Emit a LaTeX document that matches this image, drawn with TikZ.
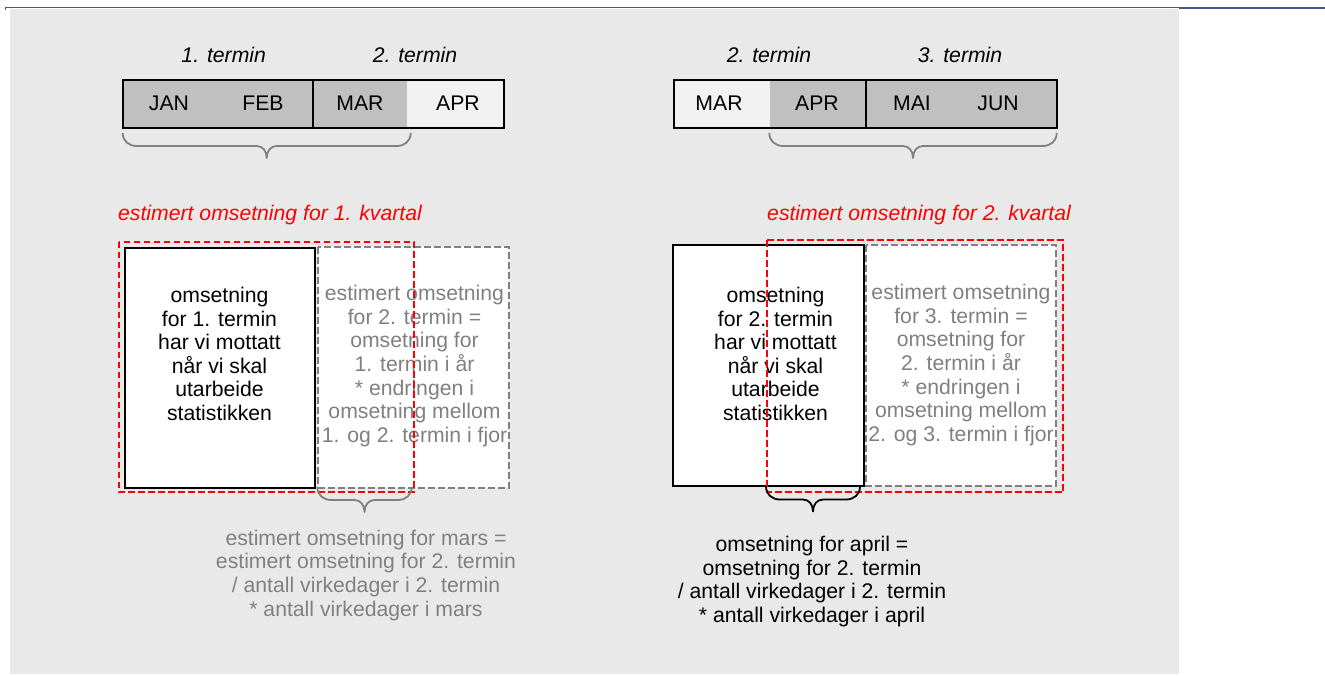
\documentclass[tikz,border=0pt]{standalone}
\usepackage{fontspec}
\setmainfont{Liberation Sans}
\definecolor{bg}{RGB}{233,233,233}
\definecolor{dk}{RGB}{192,192,192}
\definecolor{lt}{RGB}{242,242,242}
\definecolor{gr}{RGB}{128,128,128}
\definecolor{rd}{RGB}{255,0,0}
\definecolor{bl}{RGB}{59,89,140}
\newcommand\hbrace[4]{% x1, x2, y0, colour
  \draw[#4,line width=1.8pt,line join=round]
    (#1,#3) .. controls (#1,{#3+8}) and ({#1+6},{#3+13}) .. ({#1+14},{#3+13})
    -- ({(#1+#2)/2-10},{#3+13})
    .. controls ({(#1+#2)/2-4},{#3+13}) and ({(#1+#2)/2},{#3+18}) .. ({(#1+#2)/2},{#3+25})
    .. controls ({(#1+#2)/2},{#3+18}) and ({(#1+#2)/2+4},{#3+13}) .. ({(#1+#2)/2+10},{#3+13})
    -- ({#2-14},{#3+13})
    .. controls ({#2-6},{#3+13}) and (#2,{#3+8}) .. (#2,#3);}
\tikzset{
  txt/.style={font=\fontsize{21.2}{23.6}\selectfont, align=center, inner sep=0pt},
  hdr/.style={font=\fontsize{21.2}{23.6}\selectfont\itshape, inner sep=0pt},
  solidbox/.style={draw=black, line width=2.2pt, fill=white},
  grayboxd/.style={draw=gr, line width=2pt, dash pattern=on 6.7pt off 3.3pt, fill=white},
  redboxd/.style={draw=rd, line width=2pt, dash pattern=on 6.7pt off 3.3pt},
  bar/.style={draw=black, line width=2.2pt},
}
\begin{document}
\begin{tikzpicture}[x=1pt,y=-1pt]
\useasboundingbox (0,0) rectangle (1325,675);
% background panel
\fill[bg] (10,8.5) rectangle (1179,674);
\draw[bl,line width=1.8pt] (5,7.5) -- (1325,7.5);
\draw[bl,line width=1.5pt] (1179,8.7) -- (1325,8.7);
\draw[bl,line width=1.5pt] (5.5,7) -- (5.5,9.5);

% ---------- left month bar ----------
\fill[dk] (122.7,80) rectangle (407.3,128.3);
\fill[lt] (407.3,80) rectangle (504.3,128.3);
\draw[bar] (122.7,80) rectangle (504.3,128.3);
\draw[bar] (313.3,80) -- (313.3,128.3);
\node[txt] (jan) at (169,103) {JAN};
\node[txt] (feb) at (263,103) {FEB};
\node[txt] (marA) at (360,103) {MAR};
\node[txt] (aprA) at (458,103) {APR};
\node[hdr] (t1A) at (223.7,55) {1. termin};
\node[hdr] (t2A) at (415,55) {2. termin};
\hbrace{122.7}{410.7}{133}{gr}

% ---------- right month bar ----------
\fill[lt] (674.3,80) rectangle (770,128.3);
\fill[dk] (770,80) rectangle (1056.7,128.3);
\draw[bar] (674.3,80) rectangle (1056.7,128.3);
\draw[bar] (865.7,80) -- (865.7,128.3);
\node[txt] (marB) at (719,103) {MAR};
\node[txt] (aprB) at (817,103) {APR};
\node[txt] (mai) at (912,103) {MAI};
\node[txt] (jun) at (998,103) {JUN};
\node[hdr] (t2B) at (769,55) {2. termin};
\node[hdr] (t3B) at (960,55) {3. termin};
\hbrace{769.3}{1056.7}{133}{gr}

% ---------- red titles ----------
\node[hdr,text=rd] (kv1) at (270,215) {estimert omsetning for 1. kvartal};
\node[hdr,text=rd] (kv2) at (919,215) {estimert omsetning for 2. kvartal};

% ---------- left boxes ----------
\draw[solidbox] (125,248.3) rectangle (315,487.7);
\draw[grayboxd] (318.3,247.3) rectangle (509.3,487.7);
\node[txt] (recA) at (219.5,354) {omsetning\\for 1. termin\\har vi mottatt\\når vi skal\\utarbeide\\statistikken};
\node[txt,text=gr] (estA) at (414.5,366) {estimert omsetning\\for 2. termin =\\omsetning for\\1. termin i år\\* endringen i\\omsetning mellom\\1. og 2. termin i fjor};
\draw[redboxd] (119,241.7) rectangle (414,492.3);
\hbrace{317.3}{411.7}{487}{gr}
\node[txt,text=gr] (marsA) at (366,575.3) {estimert omsetning for mars =\\estimert omsetning for 2. termin\\/ antall virkedager i 2. termin\\* antall virkedager i mars};

% ---------- right boxes ----------
\draw[solidbox] (673.3,245) rectangle (864,485.7);
\draw[grayboxd] (865.7,245) rectangle (1056,485.7);
\node[txt] (recB) at (775.5,354) {omsetning\\for 2. termin\\har vi mottatt\\når vi skal\\utarbeide\\statistikken};
\node[txt,text=gr] (estB) at (961,365) {estimert omsetning\\for 3. termin =\\omsetning for\\2. termin i år\\* endringen i\\omsetning mellom\\2. og 3. termin i fjor};
\draw[redboxd] (767.3,240) rectangle (1063.3,492.3);
\hbrace{766}{860}{486.5}{black}
\node[txt] (aprilB) at (812,581.7) {omsetning for april =\\omsetning for 2. termin\\/ antall virkedager i 2. termin\\* antall virkedager i april};
\end{tikzpicture}
\end{document}
